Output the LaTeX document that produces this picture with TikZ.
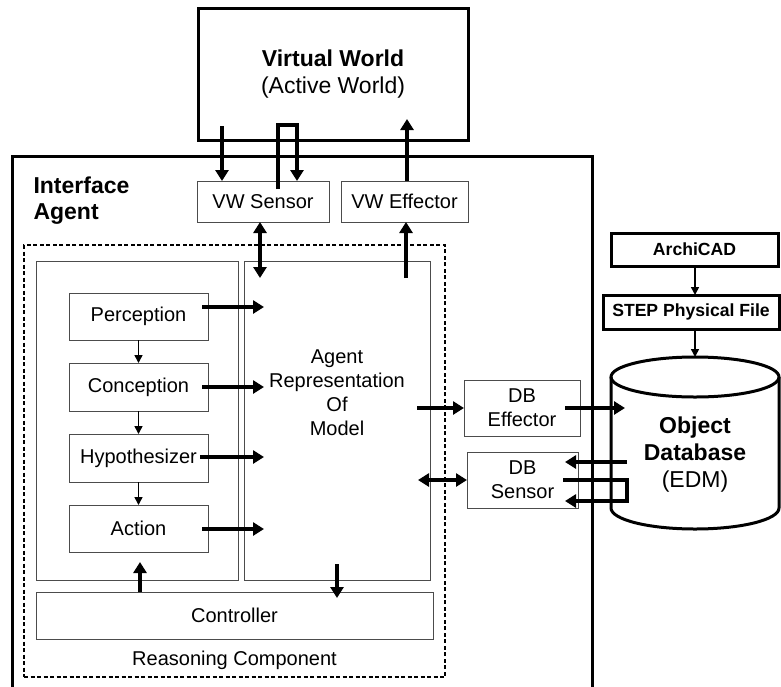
\documentclass[tikz,border=0pt]{standalone}
\usepackage{fontspec}
\setmainfont{Liberation Sans}
\usetikzlibrary{arrows.meta,calc}
\begin{document}
\begin{tikzpicture}[x=1pt,y=-1pt,
 thickbox/.style={draw, line width=3pt, inner sep=0pt, outer sep=0pt},
 thinbox/.style={draw=black!70, line width=1pt, inner sep=0pt, outer sep=0pt},
 txt/.style={font=\fontsize{20}{24}\selectfont, align=center},
 bigtxt/.style={font=\fontsize{23}{27}\selectfont, align=center},
 smalltxt/.style={font=\bfseries\fontsize{17.6}{21}\selectfont, align=center},
 big/.style={line width=4pt, -{Triangle[length=11pt,width=13pt]}},
 bigboth/.style={line width=4pt, {Triangle[length=11pt,width=13pt]}-{Triangle[length=11pt,width=13pt]}},
 bigline/.style={line width=4pt},
 small/.style={line width=1.5pt, -{Triangle[length=8pt,width=8pt]}},
]
\useasboundingbox (0,0) rectangle (781,686);

% Virtual world
\node[thickbox, minimum width=270pt, minimum height=132pt, bigtxt] (vw) at (333,74) {\textbf{Virtual World}\\(Active World)};

% Interface agent outer box
\coordinate (iabl) at (12,690);
\coordinate (iatl) at (12,156);
\coordinate (iatr) at (592,156);
\coordinate (iabr) at (592,690);
\draw[line width=3pt] (iabl) -- (iatl) -- (iatr) -- (iabr);
\node[bigtxt, align=left, anchor=west, font=\bfseries\fontsize{23}{26}\selectfont] (ialabel) at (30,201) {Interface\\Agent};

% sensors / effectors
\node[thinbox, minimum width=132pt, minimum height=41pt, txt] (vws) at (263,201.5) {VW Sensor};
\node[thinbox, minimum width=127pt, minimum height=41pt, txt] (vwe) at (404.5,201.5) {VW Effector};

% reasoning component
\node[draw, line width=1.5pt, dash pattern=on 4pt off 2.5pt, minimum width=421pt, minimum height=432pt, inner sep=0pt] (rc) at (234.5,461) {};
\node[thinbox, minimum width=202pt, minimum height=319pt] (lcol) at (137,420.5) {};
\node[thinbox, minimum width=186pt, minimum height=319pt] (rcol) at (337,420.5) {};
\node[thinbox, minimum width=397pt, minimum height=47pt, txt] (ctrl) at (234.5,615.5) {Controller};
\node[txt] (rclabel) at (234.5,660) {Reasoning Component};

\node[thinbox, minimum width=139pt, minimum height=47pt, txt] (perc) at (138.5,316.5) {Perception};
\node[thinbox, minimum width=139pt, minimum height=48pt, txt] (conc) at (138.5,387) {Conception};
\node[thinbox, minimum width=139pt, minimum height=48pt, txt] (hyp) at (138.5,458) {Hypothesizer};
\node[thinbox, minimum width=139pt, minimum height=47pt, txt] (act) at (138.5,528.5) {Action};

\node[txt] (arm) at (337,393) {Agent\\Representation\\Of\\Model};

% DB effector / sensor
\node[thinbox, minimum width=116pt, minimum height=56pt, txt] (dbe) at (522,408) {DB\\Effector};
\node[thinbox, minimum width=111pt, minimum height=56pt, txt] (dbs) at (522.5,480) {DB\\Sensor};

% ArchiCAD, STEP
\node[thickbox, minimum width=167pt, minimum height=33pt, smalltxt] (archi) at (694.5,249.5) {ArchiCAD};
\node[thickbox, minimum width=176pt, minimum height=34pt, smalltxt] (step) at (691,312) {STEP Physical File};

% Object database cylinder
\coordinate (dbtop) at (695,357);
\draw[line width=3pt] (611,377) -- (611,508) arc[start angle=180, end angle=360, x radius=84, y radius=-21] -- (779,377);
\draw[line width=3pt] (695,377) ellipse[x radius=84, y radius=20];
\node[bigtxt] (dbtext) at (695,455) {\textbf{Object}\\\textbf{Database}\\(EDM)};
\coordinate (dbleft) at (625,408);

% connectors top
\coordinate (a1) at (222,126);
\draw[big] (a1) -- (a1 |- vws.north);
\coordinate (b1) at (278,189);
\coordinate (b2) at (278,125);
\coordinate (b3) at (297,125);
\draw[big, line join=miter] (b1) -- (b2) -- (b3) -- (b3 |- vws.north);
\coordinate (c1) at (407,119);
\draw[big] (c1 |- vwe.north) -- (c1);
\coordinate (d1) at (260,278);
\draw[bigboth] (d1 |- vws.south) -- (d1);
\coordinate (e1) at (406,278);
\draw[big] (e1) -- (e1 |- vwe.south);

% module arrows
\coordinate (p1) at (202,307);
\coordinate (p2) at (264,307);
\draw[big] (p1) -- (p2);
\coordinate (q1) at (202,387);
\coordinate (q2) at (264,387);
\draw[big] (q1) -- (q2);
\coordinate (r1) at (200,457);
\coordinate (r2) at (264,457);
\draw[big] (r1) -- (r2);
\coordinate (s1) at (202,529);
\coordinate (s2) at (264,529);
\draw[big] (s1) -- (s2);

\draw[small] (perc.south) -- (conc.north);
\draw[small] (conc.south) -- (hyp.north);
\draw[small] (hyp.south) -- (act.north);

% controller arrows
\coordinate (t1) at (140,562);
\draw[big] (t1 |- ctrl.north) -- (t1);
\coordinate (u1) at (337,564);
\coordinate (u2) at (337,598);
\draw[big] (u1) -- (u2);

% DB arrows
\coordinate (v1) at (417,408);
\draw[big] (v1) -- (dbe.west);
\coordinate (v2) at (565,408);
\draw[big] (v2) -- (dbleft);
\coordinate (w1) at (627,462);
\coordinate (w2) at (565,462);
\draw[big] (w1) -- (w2);
\coordinate (x1) at (563,480);
\coordinate (x2) at (627,480);
\coordinate (x3) at (627,501);
\coordinate (x4) at (565,501);
\draw[big, line join=miter] (x1) -- (x2) -- (x3) -- (x4);
\coordinate (y1) at (418,480);
\draw[bigboth] (y1) -- (dbs.west);

\draw[small] (archi.south -| dbtop) -- (step.north -| dbtop);
\draw[small] (step.south -| dbtop) -- (dbtop);
\end{tikzpicture}
\end{document}
